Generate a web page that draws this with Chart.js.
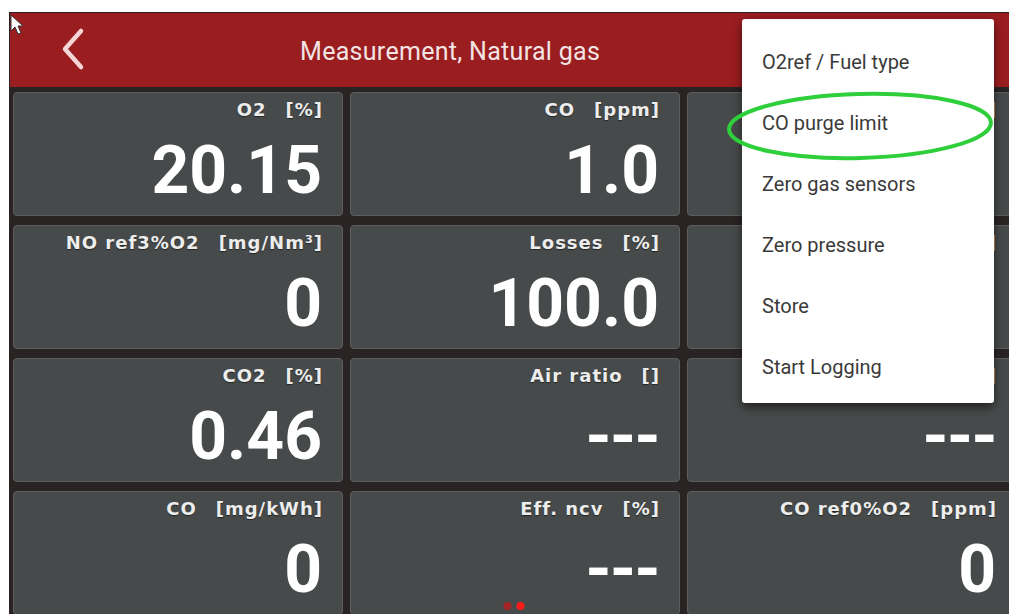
<!DOCTYPE html>
<html>
<head>
<meta charset="utf-8">
<script src="https://cdn.jsdelivr.net/npm/chart.js@4.4.1/dist/chart.umd.min.js"></script>
<style>
  body { margin: 0; width: 1009px; height: 614px; background: #ffffff; overflow: hidden; position: relative; font-family: Roboto, sans-serif; }
  .screen { position: absolute; left: 9px; top: 12px; width: 1010px; height: 610px; background: #2a2323; }
  .header { position: absolute; left: 10px; top: 13px; width: 1000px; height: 74px; background: #9a1d20; }
  .title { position: absolute; left: 300px; top: 39px; font-size: 25px; letter-spacing: 0.3px; line-height: 1; color: #f3e4e4; white-space: pre; }
  .tile { position: absolute; width: 328px; height: 122px; background: #474a4a; border: 1px solid #5d5d5d; border-radius: 4px; overflow: hidden; }
  .tile .lbl { position: absolute; right: 19px; top: 8px; font-family: 'DejaVu Sans', sans-serif; font-weight: bold; font-size: 18px; letter-spacing: 1px; line-height: 1; color: #ededed; white-space: pre; text-shadow: 0 1px 1px rgba(0,0,0,0.5); }
  .tile .lbl .unit { margin-left: 19px; }
  .tile .val { position: absolute; right: 20px; top: 45px; font-family: Roboto, sans-serif; font-weight: bold; font-size: 66px; line-height: 1; color: #ffffff; white-space: pre; }
  .tile .val.dash { letter-spacing: -1.5px; }
  .menu { position: absolute; left: 742px; top: 19px; width: 252px; height: 384px; background: #ffffff; border-radius: 3px; box-shadow: 0 4px 10px rgba(0,0,0,0.55); }
  .menu div { position: absolute; left: 20px; font-size: 20px; line-height: 1; color: #3a3a3a; white-space: pre; }
  #dots { position: absolute; left: 497px; top: 597px; width: 34px; height: 18px; }
  svg { position: absolute; left: 0; top: 0; }
</style>
</head>
<body>
<div class="screen"></div>
<div class="header"></div>
<div class="title">Measurement, Natural gas</div>
<div id="tiles"></div>
<div class="menu" id="menu"></div>
<div id="dots"><canvas id="pager"></canvas></div>
<svg width="1009" height="614">
  <polyline points="81,31 65,49 81,67" fill="none" stroke="#f4d6d6" stroke-width="4.5" stroke-linecap="round" stroke-linejoin="round"/>
  <polygon points="11,15 11,31 15,27 18,34 21,33 18,26 23,26" fill="#ffffff" stroke="#333" stroke-width="1"/>
  <ellipse cx="860" cy="126" rx="131" ry="32" fill="none" stroke="#2fcf3c" stroke-width="4" transform="rotate(-1.5 860 126)"/>
</svg>
<script>
const tileNames = [
  'O2', 'CO', 'T',
  'NO ref3%O2', 'Losses', 'P',
  'CO2', 'Air ratio', 'NO',
  'CO', 'Eff. ncv', 'CO ref0%O2'
]
const tileUnits = [
  '[%]', '[ppm]', '[°C]',
  '[mg/Nm³]', '[%]', '[hPa]',
  '[%]', '[]', '[ppm]',
  '[mg/kWh]', '[%]', '[ppm]'
]
const tileValues = [
  '20.15', '1.0', '',
  '0', '100.0', '',
  '0.46', '---', '---',
  '0', '---', '0'
]
const menuItems = ['O2ref / Fuel type', 'CO purge limit', 'Zero gas sensors', 'Zero pressure', 'Store', 'Start Logging']
const pageDots = [0, 1]
const activePage = 1

// --- TILES --- //
const colLeft = [13, 350, 687]
const rowTop = [92, 225, 358, 491]
const tiles = document.getElementById('tiles')
tileNames.forEach((name, i) => {
  const t = document.createElement('div')
  t.className = 'tile'
  t.style.left = colLeft[i % 3] + 'px'
  t.style.top = rowTop[Math.floor(i / 3)] + 'px'
  const l = document.createElement('div')
  l.className = 'lbl'
  l.textContent = name
  const u = document.createElement('span')
  u.className = 'unit'
  u.textContent = tileUnits[i]
  l.appendChild(u)
  const v = document.createElement('div')
  v.className = 'val' + (tileValues[i] === '---' ? ' dash' : '')
  v.textContent = tileValues[i]
  t.appendChild(l)
  t.appendChild(v)
  tiles.appendChild(t)
})

// --- MENU --- //
const menu = document.getElementById('menu')
menuItems.forEach((item, i) => {
  const d = document.createElement('div')
  d.style.top = (33 + i * 61) + 'px'
  d.textContent = item
  menu.appendChild(d)
})

// --- PAGE INDICATOR (Chart.js) --- //
new Chart(document.getElementById('pager'), {
  type: 'scatter',
  data: {
    datasets: [{
      data: pageDots.map(p => ({ x: p, y: 0 })),
      pointRadius: 4,
      pointBorderWidth: 0,
      backgroundColor: pageDots.map(p => p === activePage ? '#ff1a1a' : '#a52424')
    }]
  },
  options: {
    responsive: true,
    maintainAspectRatio: false,
    animation: false,
    layout: { padding: 0 },
    scales: {
      x: { display: false, min: -0.5, max: 1.5 },
      y: { display: false, min: -1, max: 1 }
    },
    plugins: { legend: { display: false }, tooltip: { enabled: false } }
  }
})
</script>
</body>
</html>
